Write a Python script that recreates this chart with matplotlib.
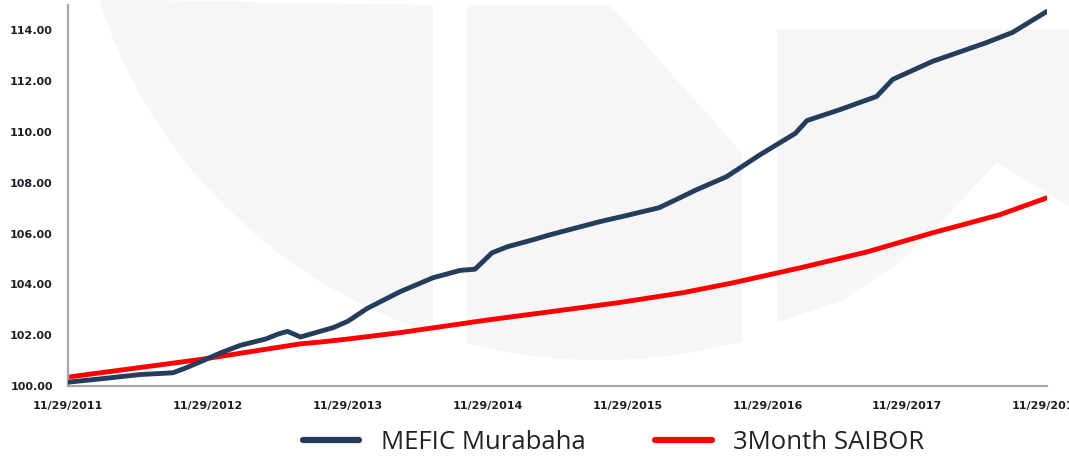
import matplotlib
matplotlib.use("Agg")
import matplotlib.pyplot as plt
import numpy as np
import pandas as pd

# ---- data ----
mefic_dates = ["2011-11-29", "2012-02-21", "2012-06-04", "2012-08-29", "2012-09-30",
               "2012-11-16", "2012-12-31", "2013-02-21", "2013-04-28", "2013-06-01",
               "2013-06-24", "2013-07-10", "2013-07-28", "2013-10-22", "2013-11-29",
               "2014-01-18", "2014-04-14", "2014-07-09", "2014-09-18", "2014-10-27",
               "2014-11-17", "2014-12-10", "2015-01-19", "2015-03-28", "2015-05-10",
               "2015-09-18", "2015-11-29", "2016-02-20", "2016-04-06", "2016-05-28",
               "2016-08-14", "2016-11-09", "2017-02-10", "2017-03-12", "2017-06-06",
               "2017-09-10", "2017-10-22", "2018-02-03", "2018-06-24", "2018-08-31",
               "2018-11-29"]
mefic_values = [100.15, 100.28, 100.45, 100.52, 100.70,
                101.00, 101.30, 101.60, 101.85, 102.05,
                102.15, 102.05, 101.93, 102.30, 102.55,
                103.05, 103.71, 104.26, 104.55, 104.60,
                104.90, 105.24, 105.48, 105.76, 105.95,
                106.47, 106.72, 107.02, 107.35, 107.73,
                108.24, 109.10, 109.95, 110.45, 110.88,
                111.40, 112.07, 112.78, 113.52, 113.92,
                114.75]

saibor_dates = ["2011-11-29", "2012-08-29", "2012-11-16", "2013-07-28", "2013-09-18",
                "2013-11-29", "2014-04-14", "2014-11-29", "2015-05-10", "2015-11-01",
                "2016-04-21", "2016-08-30", "2017-02-22", "2017-08-16", "2018-02-03",
                "2018-07-28", "2018-11-29"]
saibor_values = [100.35, 100.90, 101.06, 101.66, 101.73,
                 101.85, 102.10, 102.60, 102.92, 103.27,
                 103.67, 104.06, 104.65, 105.28, 106.03,
                 106.74, 107.41]

tick_dates = ["2011-11-29", "2012-11-29", "2013-11-29", "2014-11-29",
              "2015-11-29", "2016-11-29", "2017-11-29", "2018-11-29"]
tick_labels = ["11/29/2011", "11/29/2012", "11/29/2013", "11/29/2014",
               "11/29/2015", "11/29/2016", "11/29/2017", "11/29/2018"]
series_names = ["MEFIC Murabaha", "3Month SAIBOR"]

# ---- figure ----
W, H = 1069, 459
fig = plt.figure(figsize=(W / 100, H / 100), dpi=100)

# faint watermark in the background (pixel coordinates)
bg = fig.add_axes([0, 0, 1, 1], zorder=0)
bg.set_xlim(0, W)
bg.set_ylim(H, 0)
bg.axis("off")
wm = "#f6f6f6"
def arc_y(x):
    x = np.asarray(x, dtype=float)
    return -150 + 510 * np.sqrt(np.clip(1 - ((x - 600) / 524.0) ** 2, 0, None))
xs = np.linspace(99, 433, 60)
bg.fill(np.r_[xs, 433], np.r_[arc_y(xs), 5], color=wm, lw=0)
xs2 = np.linspace(742, 467, 60)
bg.fill(np.r_[467, 610, 742, xs2], np.r_[5, 5, 153, arc_y(xs2)], color=wm, lw=0)
right_x = [777, 1069, 1069, 997, 980, 950, 900, 843, 777]
right_y = [29, 29, 207, 162, 180, 213, 262, 300, 323]
bg.fill(right_x, right_y, color=wm, lw=0)

ax = fig.add_axes([68 / W, 1 - 386 / H, (1047 - 68) / W, (386 - 5) / H], zorder=1)
ax.patch.set_alpha(0)

md = pd.to_datetime(mefic_dates)
sd = pd.to_datetime(saibor_dates)
l1, = ax.plot(md, mefic_values, color="#253d5c", lw=3.5, solid_capstyle="round",
              solid_joinstyle="round", zorder=3)
l2, = ax.plot(sd, saibor_values, color="#ff0000", lw=3.5, solid_capstyle="round",
              solid_joinstyle="round", zorder=2)

ax.set_ylim(100, 115)
yt = np.arange(100, 115, 2)
ax.set_yticks(yt)
ax.set_yticklabels([f"{v:.2f}" for v in yt])
td = pd.to_datetime(tick_dates)
ax.set_xlim(td[0], td[-1])
ax.set_xticks(td)
ax.set_xticklabels(tick_labels)

for s in ["top", "right"]:
    ax.spines[s].set_visible(False)
for s in ["left", "bottom"]:
    ax.spines[s].set_color("#a6a6a6")
    ax.spines[s].set_linewidth(1.6)

ax.tick_params(axis="both", length=0, labelsize=8, colors="#1e1e2a")
ax.tick_params(axis="y", pad=11)
ax.tick_params(axis="x", pad=11)
for lab in ax.get_xticklabels() + ax.get_yticklabels():
    lab.set_fontweight("bold")
    lab.set_family("DejaVu Sans")

leg = fig.legend([l1, l2], series_names, loc="center", ncol=2,
                 bbox_to_anchor=(0.574, 0.037), frameon=False,
                 prop={"family": "Open Sans", "size": 18.5},
                 handlelength=2.2, handletextpad=0.85, columnspacing=2.7)
for t in leg.get_texts():
    t.set_color("#222222")
for h in leg.get_lines():
    h.set_linewidth(4.5)
    h.set_solid_capstyle("round")

fig.savefig("out.png", dpi=100)
